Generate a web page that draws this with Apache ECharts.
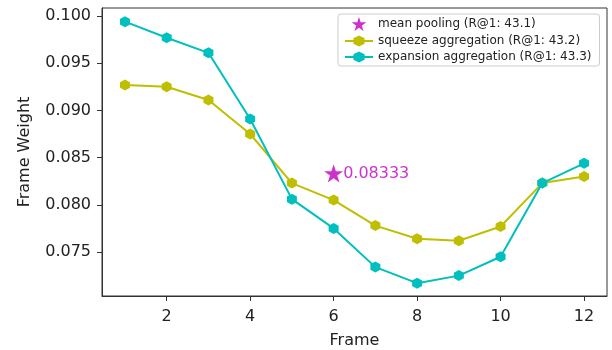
<!DOCTYPE html>
<html>
<head>
<meta charset="utf-8">
<script src="https://cdn.jsdelivr.net/npm/echarts@6/dist/echarts.min.js"></script>
<style>
  html, body { margin: 0; padding: 0; background: #fff; }
  #chart { width: 612px; height: 350px; }
</style>
</head>
<body>
<div id="chart"></div>
<script>
var frames = [1, 2, 3, 4, 5, 6, 7, 8, 9, 10, 11, 12];
var squeeze = [0.0927, 0.0925, 0.0911, 0.0875, 0.0823, 0.0805, 0.0778, 0.0764, 0.0762, 0.0777, 0.0823, 0.0830];
var expansion = [0.0994, 0.0977, 0.0961, 0.0891, 0.0806, 0.0775, 0.0734, 0.0717, 0.0725, 0.0745, 0.0823, 0.0844];
var meanPoint = [6, 0.08333];
var xTicks = [2, 4, 6, 8, 10, 12];
var yTicks = [0.075, 0.080, 0.085, 0.090, 0.095, 0.100];

var hexagon = 'path://M0,-1 L0.866,-0.5 L0.866,0.5 L0,1 L-0.866,0.5 L-0.866,-0.5 Z';
var star = 'path://M0,-1 L0.2245,-0.309 L0.951,-0.309 L0.363,0.118 L0.588,0.809 L0,0.382 L-0.588,0.809 L-0.363,0.118 L-0.951,-0.309 L-0.2245,-0.309 Z';
var font = 'DejaVu Sans';

function pairs(ys) {
    return frames.map(function (f, i) { return [f, ys[i]]; });
}

var myChart = echarts.init(document.getElementById('chart'));
myChart.setOption({
    animation: false,
    backgroundColor: '#fff',
    textStyle: { fontFamily: font },
    grid: {
        left: 102, right: 5, top: 8, bottom: 54,
        outerBoundsMode: 'none',
        containLabel: false,
        show: true, borderColor: '#333', borderWidth: 1
    },
    legend: {
        orient: 'vertical',
        left: 338, top: 14,
        padding: [3, 8, 3, 6],
        itemGap: 4,
        itemWidth: 28,
        itemHeight: 14,
        borderColor: '#ccc',
        borderWidth: 1,
        borderRadius: 3,
        textStyle: { fontSize: 12, color: '#222', fontFamily: font },
        data: [
            { name: 'mean pooling (R@1: 43.1)', icon: star },
            'squeeze aggregation (R@1: 43.2)',
            'expansion aggregation (R@1: 43.3)'
        ]
    },
    xAxis: {
        type: 'value',
        min: 0.45, max: 12.55,
        name: 'Frame',
        nameLocation: 'middle',
        nameGap: 37,
        nameTextStyle: { fontSize: 16, color: '#222', fontFamily: font },
        splitLine: { show: false },
        axisLine: { show: true, onZero: false, lineStyle: { color: '#333', width: 1 } },
        axisTick: { show: true, length: 5, customValues: xTicks, lineStyle: { color: '#333' } },
        axisLabel: { customValues: xTicks, fontSize: 16, color: '#222', margin: 13, fontFamily: font }
    },
    yAxis: {
        type: 'value',
        min: 0.07034, max: 0.10085,
        name: 'Frame Weight',
        nameLocation: 'middle',
        nameGap: 69,
        nameTextStyle: { fontSize: 16, color: '#222', fontFamily: font },
        splitLine: { show: false },
        axisLine: { show: true, lineStyle: { color: '#333', width: 1 } },
        axisTick: { show: true, length: 5, customValues: yTicks, lineStyle: { color: '#333' } },
        axisLabel: {
            customValues: yTicks, fontSize: 16, color: '#222', margin: 11, fontFamily: font,
            formatter: function (v) { return v.toFixed(3); }
        }
    },
    series: [{
        name: 'mean pooling (R@1: 43.1)',
        type: 'scatter',
        data: [meanPoint],
        symbol: star,
        symbolKeepAspect: true,
        symbolSize: 19,
        itemStyle: { color: '#bf00bf' },
        label: {
            show: true, position: 'right', distance: 0,
            fontSize: 16, color: '#bf00bf', fontFamily: font,
            formatter: function (p) { return p.value[1].toFixed(5); }
        },
        z: 5
    }, {
        name: 'squeeze aggregation (R@1: 43.2)',
        type: 'line',
        data: pairs(squeeze),
        symbol: hexagon,
        symbolSize: [10, 11],
        showAllSymbol: true,
        itemStyle: { color: '#bfbf00' },
        lineStyle: { color: '#bfbf00', width: 2 }
    }, {
        name: 'expansion aggregation (R@1: 43.3)',
        type: 'line',
        data: pairs(expansion),
        symbol: hexagon,
        symbolSize: [10, 11],
        showAllSymbol: true,
        itemStyle: { color: '#00bfbf' },
        lineStyle: { color: '#00bfbf', width: 2 }
    }]
});
</script>
</body>
</html>
